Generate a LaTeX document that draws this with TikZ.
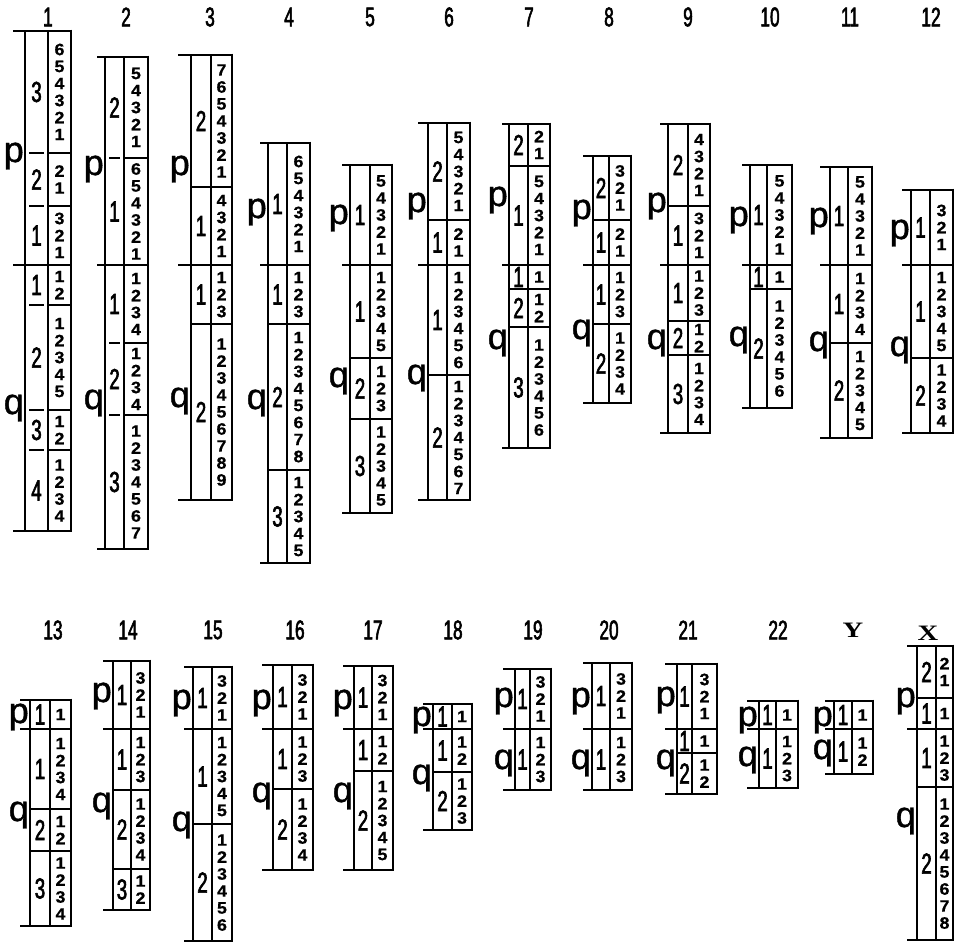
\documentclass[tikz,border=0pt]{standalone}
\usepackage{fontspec}
\setmainfont{Liberation Sans}
\newfontfamily\bandfont{Liberation Sans}[FakeStretch=1.08,FakeBold=0.6]
\newfontfamily\regfont{Liberation Sans}[FakeStretch=0.64,FakeBold=2]
\newfontfamily\labfont{Liberation Sans}[FakeStretch=0.64,FakeBold=2]
\newfontfamily\armfont{Liberation Sans}[FakeBold=1.2]
\newfontfamily\xyfont{Liberation Serif}[FakeStretch=1.3]
\tikzset{
  thn/.style={line width=1.1pt},
  thk/.style={line width=2.7pt},
  bdig/.style={inner sep=0pt, font=\bandfont\bfseries\fontsize{16.5}{16.5}\selectfont},
  rdig/.style={inner sep=0pt, font=\regfont\fontsize{29}{29}\selectfont},
  clab/.style={inner sep=0pt, font=\labfont\fontsize{27}{27}\selectfont},
  armlab/.style={inner sep=0pt, anchor=base east, font=\armfont\fontsize{36}{36}\selectfont},
  xylab/.style={inner sep=0pt, font=\xyfont\bfseries\fontsize{22}{22}\selectfont},
}
% chromosome frame: x, wl, wr, top, cen, bottom, ext
\newcommand\chrom[7]{%
  \pgfmathsetmacro\cXl{#1}%
  \pgfmathsetmacro\cXm{#1+#2}%
  \pgfmathsetmacro\cXr{#1+#2+#3}%
  \pgfmathsetmacro\cXe{#1-#7}%
  \pgfmathsetmacro\cWl{#2}%
  \pgfmathsetmacro\cWr{#3}%
  \draw[thn] (\cXl,#4) -- (\cXl,#6);
  \draw[thn] (\cXm,#4) -- (\cXm,#6);
  \draw[thk] (\cXr,#4-1.35) -- (\cXr,#6+1.35);
  \draw[thk] (\cXe,#4) -- (\cXr,#4);
  \draw[thk] (\cXe,#5) -- (\cXr,#5);
  \draw[thk] (\cXe,#6) -- (\cXr,#6);
}
% p band: y1, y2, region, n (digits descending)
\newcommand\pband[4]{%
  \pgfmathsetmacro\bBh{#2-#1}%
  \pgfmathsetmacro\bBp{min(\bBh/#4,17)}%
  \pgfmathsetmacro\bBs{(#1+#2)/2-\bBp*(#4-1)/2}%
  \node[rdig] at ({\cXl+\cWl/2},{(#1+#2)/2}) {#3};
  \foreach \i in {1,...,#4}{%
    \pgfmathtruncatemacro\bDd{#4-\i+1}%
    \node[bdig] at ({\cXm+\cWr/2},{\bBs+(\i-1)*\bBp}) {\bDd};
  }%
}
% q band: digits ascending
\newcommand\qband[4]{%
  \pgfmathsetmacro\bBh{#2-#1}%
  \pgfmathsetmacro\bBp{min(\bBh/#4,17)}%
  \pgfmathsetmacro\bBs{(#1+#2)/2-\bBp*(#4-1)/2}%
  \node[rdig] at ({\cXl+\cWl/2},{(#1+#2)/2}) {#3};
  \foreach \i in {1,...,#4}{%
    \node[bdig] at ({\cXm+\cWr/2},{\bBs+(\i-1)*\bBp}) {\i};
  }%
}
\newcommand\bnd[1]{\draw[thn] (\cXl,#1) -- (\cXr,#1);}
\newcommand\bndd[1]{\draw[thn] ({\cXl+4},#1) -- ({\cXm-4},#1); \draw[thn] (\cXm,#1) -- (\cXr,#1);}
\newcommand\armp[2]{\node[armlab] at ({\cXl-1},{#2+9}) {#1};}
\begin{document}
\begin{tikzpicture}[x=1pt,y=-1pt]
\useasboundingbox (0,0) rectangle (955,944);
% ---------- labels ----------
\foreach \t/\x in {1/48,2/126,3/210,4/289,5/370,6/449,7/529,8/609,9/688,10/770,11/850,12/931}
  \node[clab] (lab\t) at (\x,17) {\t};
\foreach \t/\x in {13/53,14/128,15/213,16/295,17/373,18/453,19/533,20/609,21/688,22/778}
  \node[clab] (lab\t) at (\x,630) {\t};
\node[xylab] (labY) at (853,630) {Y};
\node[xylab] (labX) at (928,633) {X};
% ---------- row 1 (centromere 265) ----------
% 1
\chrom{25}{23}{23}{31}{265}{531}{12}
\pband{31}{153}{3}{6}\pband{153}{206}{2}{2}\pband{206}{265}{1}{3}
\qband{265}{305}{1}{2}\qband{305}{410}{2}{5}\qband{410}{450}{3}{2}\qband{450}{531}{4}{4}
\bndd{153}\bndd{206}\bndd{305}\bndd{410}\bndd{450}
\node[armlab] (p1) at (24,162) {p};
\armp{q}{405}
% 2
\chrom{105}{19}{24}{57}{265}{549}{8}
\pband{57}{158}{2}{5}\pband{158}{265}{1}{6}
\qband{265}{343}{1}{4}\qband{343}{415}{2}{4}\qband{415}{549}{3}{7}
\bndd{158}\bndd{343}\bndd{415}
\armp{p}{166}\armp{q}{400}
% 3
\chrom{191}{20}{21}{55}{265}{500}{13}
\pband{55}{187}{2}{7}\pband{187}{265}{1}{4}
\qband{265}{324}{1}{3}\qband{324}{500}{2}{9}
\bnd{187}\bnd{324}
\armp{p}{166}\armp{q}{398}
% 4
\chrom{268}{19}{23}{143}{265}{563}{8}
\pband{143}{265}{1}{6}
\qband{265}{324}{1}{3}\qband{324}{470}{2}{8}\qband{470}{563}{3}{5}
\bnd{324}\bnd{470}
\armp{p}{209}\armp{q}{400}
% 5
\chrom{350}{20}{22}{165}{265}{513}{8}
\pband{165}{265}{1}{5}
\qband{265}{358}{1}{5}\qband{358}{419}{2}{3}\qband{419}{513}{3}{5}
\bnd{358}\bnd{419}
\armp{p}{215}\armp{q}{378}
% 6
\chrom{428}{19}{23}{123}{265}{500}{10}
\pband{123}{220}{2}{5}\pband{220}{265}{1}{2}
\qband{265}{375}{1}{6}\qband{375}{500}{2}{7}
\bnd{220}\bnd{375}
\armp{p}{203}\armp{q}{375}
% 7
\chrom{509}{19}{22}{124}{265}{448}{7}
\pband{124}{166}{2}{2}\pband{166}{265}{1}{5}
\qband{265}{289}{1}{1}\qband{289}{327}{2}{2}\qband{327}{448}{3}{6}
\bnd{166}\bnd{289}\bnd{327}
\armp{p}{197}\armp{q}{340}
% 8
\chrom{593}{16}{22}{156}{265}{403}{10}
\pband{156}{220}{2}{3}\pband{220}{265}{1}{2}
\qband{265}{324}{1}{3}\qband{324}{403}{2}{4}
\bnd{220}\bnd{324}
\armp{p}{210}\armp{q}{330}
% 9
\chrom{668}{20}{22}{124}{265}{433}{8}
\pband{124}{206}{2}{4}\pband{206}{265}{1}{3}
\qband{265}{321}{1}{3}\qband{321}{355}{2}{2}\qband{355}{433}{3}{4}
\bnd{206}\bnd{321}\bnd{355}
\armp{p}{203}\armp{q}{340}
% 10
\chrom{750}{17}{25}{165}{265}{408}{8}
\pband{165}{265}{1}{5}
\qband{265}{289}{1}{1}\qband{289}{408}{2}{6}
\bnd{289}
\armp{p}{217}\armp{q}{337}
% 11
\chrom{830}{18}{24}{167}{265}{438}{10}
\pband{167}{265}{1}{5}
\qband{265}{343}{1}{4}\qband{343}{438}{2}{5}
\bnd{343}
\armp{p}{218}\armp{q}{342}
% 12
\chrom{911}{19}{23}{190}{265}{433}{9}
\pband{190}{265}{1}{3}
\qband{265}{358}{1}{5}\qband{358}{433}{2}{4}
\bnd{358}
\armp{p}{230}\armp{q}{347}
% ---------- row 2 (centromere 729) ----------
% 13
\chrom{30}{20}{21}{700}{729}{926}{10}
\pband{700}{729}{1}{1}
\qband{729}{809}{1}{4}\qband{809}{851}{2}{2}\qband{851}{926}{3}{4}
\bnd{809}\bnd{851}
\armp{p}{714}\armp{q}{812}
% 14
\chrom{113}{18}{19}{661}{729}{910}{10}
\pband{661}{729}{1}{3}
\qband{729}{790}{1}{3}\qband{790}{869}{2}{4}\qband{869}{910}{3}{2}
\bnd{790}\bnd{869}
\armp{p}{693}\armp{q}{803}
% 15
\chrom{193}{19}{20}{667}{729}{941}{9}
\pband{667}{729}{1}{3}
\qband{729}{824}{1}{5}\qband{824}{941}{2}{6}
\bnd{824}
\armp{p}{700}\armp{q}{822}
% 16
\chrom{273}{19}{21}{665}{729}{870}{11}
\pband{665}{729}{1}{3}
\qband{729}{789}{1}{3}\qband{789}{870}{2}{4}
\bnd{789}
\armp{p}{700}\armp{q}{793}
% 17
\chrom{354}{18}{21}{666}{729}{870}{11}
\pband{666}{729}{1}{3}
\qband{729}{771}{1}{2}\qband{771}{870}{2}{5}
\bnd{771}
\armp{p}{700}\armp{q}{793}
% 18
\chrom{433}{19}{20}{704}{729}{830}{10}
\pband{704}{729}{1}{1}
\qband{729}{772}{1}{2}\qband{772}{830}{2}{3}
\bnd{772}
\armp{p}{717}\armp{q}{775}
% 19
\chrom{515}{15}{21}{669}{729}{790}{12}
\pband{669}{729}{1}{3}
\qband{729}{790}{1}{3}
\armp{p}{698}\armp{q}{760}
% 20
\chrom{592}{18}{22}{663}{729}{790}{9}
\pband{663}{729}{1}{3}
\qband{729}{790}{1}{3}
\armp{p}{698}\armp{q}{760}
% 21
\chrom{677}{15}{25}{664}{729}{794}{12}
\pband{664}{729}{1}{3}
\qband{729}{753}{1}{1}\qband{753}{794}{2}{2}
\bnd{753}
\armp{p}{697}\armp{q}{760}
% 22
\chrom{759}{17}{22}{701}{729}{788}{12}
\pband{701}{729}{1}{1}
\qband{729}{788}{1}{3}
\armp{p}{717}\armp{q}{757}
% Y
\chrom{834}{18}{21}{701}{729}{774}{9}
\pband{701}{729}{1}{1}
\qband{729}{774}{1}{2}
\armp{p}{717}\armp{q}{750}
% X
\chrom{917}{19}{17}{646}{729}{940}{10}
\pband{646}{698}{2}{2}\pband{698}{729}{1}{1}
\qband{729}{787}{1}{3}\qband{787}{940}{2}{8}
\bnd{698}\bnd{787}
\armp{p}{698}\armp{q}{818}
\end{tikzpicture}
\end{document}
